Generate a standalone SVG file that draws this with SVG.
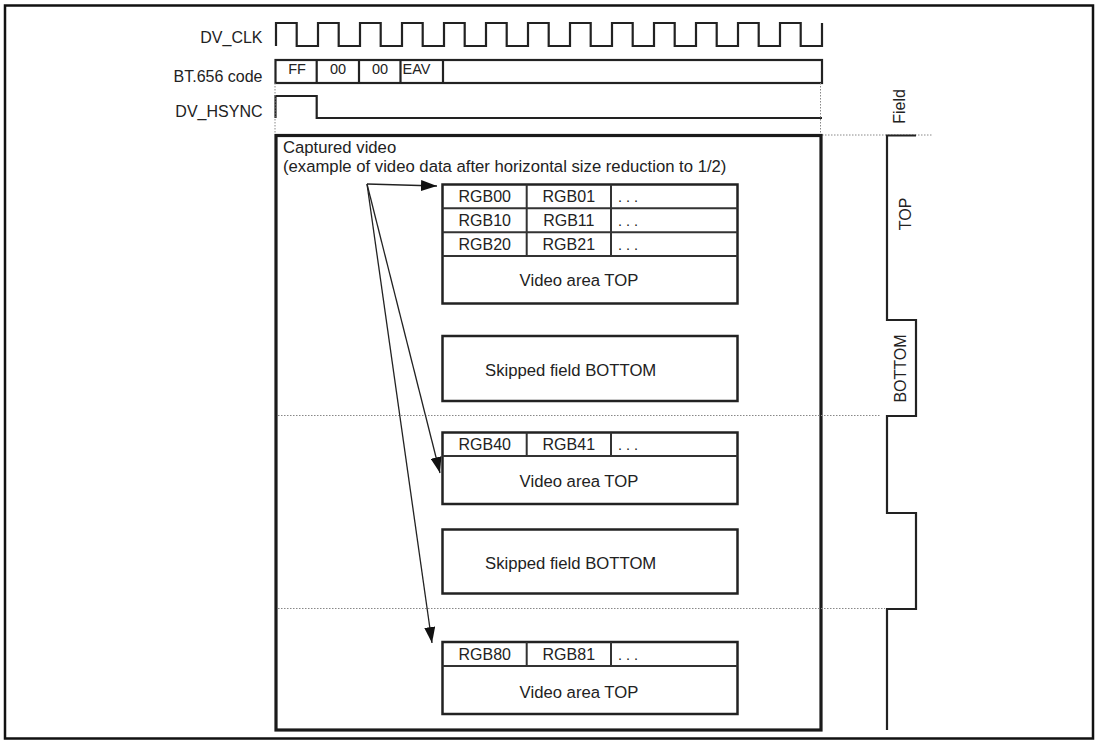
<svg xmlns="http://www.w3.org/2000/svg" width="1101" height="744" viewBox="0 0 1101 744">
<style>
  text { font-family: "Liberation Sans", Arial, sans-serif; fill: #222; }
  .lbl { font-size: 16px; }
  .big { font-size: 16.7px; }
  .sm { font-size: 14.5px; }
  .wave { fill: none; stroke: #222; stroke-width: 2.2; }
  .box { fill: #fff; stroke: #222; stroke-width: 2.5; }
  .cell { fill: none; stroke: #333; stroke-width: 2; }
  .dot { fill: none; stroke: #888; stroke-width: 1; stroke-dasharray: 1.5 1.5; }
  .arr { fill: none; stroke: #222; stroke-width: 1.3; marker-end: url(#ah); }
</style>
<defs>
  <marker id="ah" viewBox="0 0 16 11" refX="16" refY="5.5" markerWidth="16" markerHeight="11" markerUnits="userSpaceOnUse" orient="auto">
    <path d="M0,0 L16,5.5 L0,11 Z" fill="#111"/>
  </marker>
</defs>
<rect x="5" y="5.5" width="1088" height="733" fill="#fff" stroke="#111" stroke-width="2.5"/>

<g id="signals">
  <text class="lbl" x="262.5" y="43" text-anchor="end">DV_CLK</text>
  <text class="lbl" x="262.5" y="82" text-anchor="end">BT.656 code</text>
  <text class="lbl" x="262.5" y="117" text-anchor="end">DV_HSYNC</text>
  <path class="wave" d="M276,46 V23 H296.7 V46 H318 V23 H338.7 V46 H360 V23 H380.7 V46 H402 V23 H422.7 V46 H444 V23 H464.7 V46 H486 V23 H506.7 V46 H528 V23 H548.7 V46 H570 V23 H590.7 V46 H612 V23 H632.7 V46 H654 V23 H674.7 V46 H696 V23 H716.7 V46 H738 V23 H758.7 V46 H780 V23 H800.7 V46 H822 V23"/>
  <rect class="wave" x="275.5" y="60" width="546.5" height="23"/>
  <path class="wave" d="M316.7,60 V83 M359,60 V83 M400.5,60 V83 M443,60 V83"/>
  <text class="sm" x="297" y="73.5" text-anchor="middle">FF</text>
  <text class="sm" x="338" y="73.5" text-anchor="middle">00</text>
  <text class="sm" x="380" y="73.5" text-anchor="middle">00</text>
  <text class="sm" x="402.5" y="73.5">EAV</text>
  <path class="wave" d="M275.5,118 V96 H316.7 V118 H822"/>
  <path class="dot" d="M275,83 V134 M820.5,83 V134 M822,135 H932"/>
</g>

<g id="field">
  <text class="lbl" transform="translate(905,106.5) rotate(-90)" text-anchor="middle">Field</text>
  <path class="wave" d="M916,135.5 H887 V320 H916 V416 H887 V513 H916 V609 H887 V730"/>
  <text class="lbl" transform="translate(910.5,214) rotate(-90)" text-anchor="middle">TOP</text>
  <text class="lbl" transform="translate(906,368.5) rotate(-90)" text-anchor="middle">BOTTOM</text>
</g>

<g id="captured">
  <rect x="276" y="135.5" width="545" height="594.5" fill="none" stroke="#1a1a1a" stroke-width="3.2"/>
  <text class="big" x="283" y="153">Captured video</text>
  <text class="big" x="283" y="172">(example of video data after horizontal size reduction to 1/2)</text>
  <path class="dot" d="M278,415.5 H881 M278,608.5 H885"/>
</g>

<g id="top1">
  <rect class="box" x="442.5" y="184.5" width="295" height="119"/>
  <path class="cell" d="M442.5,208.3 H737.5 M442.5,232.3 H737.5 M442.5,256 H737.5 M526.7,184.5 V256 M611,184.5 V256"/>
  <text class="lbl" x="484.7" y="201.5" text-anchor="middle">RGB00</text>
  <text class="lbl" x="568.8" y="201.5" text-anchor="middle">RGB01</text>
  <text class="sm" x="618" y="201.5">. . .</text>
  <text class="lbl" x="484.7" y="225.5" text-anchor="middle">RGB10</text>
  <text class="lbl" x="568.8" y="225.5" text-anchor="middle">RGB11</text>
  <text class="sm" x="618" y="225.5">. . .</text>
  <text class="lbl" x="484.7" y="249.5" text-anchor="middle">RGB20</text>
  <text class="lbl" x="568.8" y="249.5" text-anchor="middle">RGB21</text>
  <text class="sm" x="618" y="249.5">. . .</text>
  <text class="big" x="579" y="286" text-anchor="middle">Video area TOP</text>
</g>

<g id="skip1">
  <rect class="box" x="442.5" y="336" width="295" height="65"/>
  <text class="big" x="485" y="376">Skipped field BOTTOM</text>
</g>

<g id="top2">
  <rect class="box" x="442.5" y="432.5" width="295" height="71.5"/>
  <path class="cell" d="M442.5,456 H737.5 M526.7,432.5 V456 M611,432.5 V456"/>
  <text class="lbl" x="484.7" y="449.5" text-anchor="middle">RGB40</text>
  <text class="lbl" x="568.8" y="449.5" text-anchor="middle">RGB41</text>
  <text class="sm" x="618" y="449.5">. . .</text>
  <text class="big" x="579" y="487" text-anchor="middle">Video area TOP</text>
</g>

<g id="skip2">
  <rect class="box" x="442.5" y="529.5" width="295" height="64"/>
  <text class="big" x="485" y="569">Skipped field BOTTOM</text>
</g>

<g id="top3">
  <rect class="box" x="442.5" y="642" width="295" height="72"/>
  <path class="cell" d="M442.5,666 H737.5 M526.7,642 V666 M611,642 V666"/>
  <text class="lbl" x="484.7" y="659.5" text-anchor="middle">RGB80</text>
  <text class="lbl" x="568.8" y="659.5" text-anchor="middle">RGB81</text>
  <text class="sm" x="618" y="659.5">. . .</text>
  <text class="big" x="579" y="698" text-anchor="middle">Video area TOP</text>
</g>

<g id="connectors">
  <line class="arr" x1="367" y1="184" x2="437" y2="186"/>
  <line class="arr" x1="367" y1="184" x2="440" y2="473"/>
  <line class="arr" x1="367" y1="184" x2="432" y2="643"/>
</g>
</svg>
